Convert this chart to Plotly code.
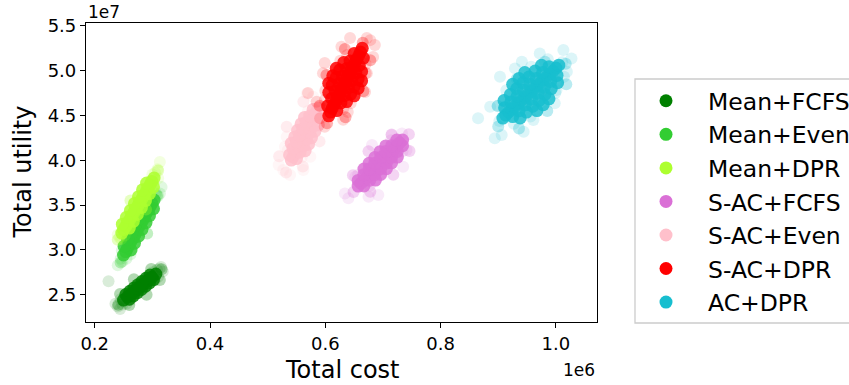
import plotly.graph_objects as go

# Total cost in units of 1e6, total utility in units of 1e7
series_names = ["Mean+FCFS", "Mean+Even", "Mean+DPR", "S-AC+FCFS",
                "S-AC+Even", "S-AC+DPR", "AC+DPR"]
series_colors = ["#008000", "#32CD32", "#ADFF2F", "#DA70D6",
                 "#FFC0CB", "#FF0000", "#17BECF"]

mean_fcfs_core = [
    (0.250, 2.440), (0.257, 2.476), (0.264, 2.513), (0.271, 2.549), (0.278, 2.585),
    (0.285, 2.621), (0.292, 2.658), (0.299, 2.694), (0.306, 2.730),
    (0.260, 2.450), (0.267, 2.487), (0.274, 2.523), (0.281, 2.559), (0.288, 2.595),
    (0.295, 2.632), (0.302, 2.668),
    (0.254, 2.502), (0.261, 2.539), (0.268, 2.575), (0.275, 2.611), (0.282, 2.647),
    (0.289, 2.684), (0.296, 2.720),
]
mean_fcfs_rim = [
    (0.316, 2.783), (0.241, 2.389), (0.290, 2.499), (0.268, 2.673), (0.313, 2.664),
    (0.260, 2.385), (0.244, 2.508), (0.298, 2.787),
]
mean_fcfs_halo = [
    (0.240, 2.37), (0.244, 2.34), (0.236, 2.40), (0.248, 2.39), (0.255, 2.40),
    (0.312, 2.79), (0.318, 2.76), (0.315, 2.81), (0.308, 2.78), (0.300, 2.75),
    (0.224, 2.65), (0.262, 2.44), (0.245, 2.45), (0.310, 2.70), (0.304, 2.66),
]

mean_even_core = [
    (0.250, 2.943), (0.257, 3.020), (0.263, 3.096), (0.270, 3.173), (0.276, 3.250),
    (0.283, 3.326), (0.289, 3.403), (0.296, 3.480), (0.303, 3.556),
    (0.254, 2.981), (0.260, 3.058), (0.267, 3.135), (0.273, 3.211), (0.280, 3.288),
    (0.286, 3.365), (0.293, 3.441), (0.299, 3.518),
    (0.263, 2.999), (0.269, 3.075), (0.276, 3.152), (0.282, 3.229), (0.289, 3.305),
    (0.295, 3.382), (0.302, 3.459),
    (0.251, 3.041), (0.257, 3.117), (0.264, 3.194), (0.270, 3.271), (0.277, 3.347),
    (0.283, 3.424), (0.290, 3.501),
]
mean_even_rim = [(0.308, 3.605), (0.245, 2.860), (0.291, 3.184), (0.263, 3.280)]
mean_even_halo = [
    (0.240, 2.83), (0.245, 2.90), (0.248, 2.87), (0.255, 2.90), (0.310, 3.60),
    (0.316, 3.70), (0.313, 3.63), (0.306, 3.63), (0.262, 2.95), (0.247, 2.99),
]

mean_dpr_core = [
    (0.247, 3.188), (0.250, 3.226), (0.254, 3.265), (0.257, 3.303), (0.261, 3.341),
    (0.264, 3.380), (0.268, 3.418), (0.271, 3.456), (0.275, 3.494), (0.278, 3.533),
    (0.282, 3.571), (0.285, 3.609), (0.289, 3.648), (0.292, 3.686), (0.296, 3.724),
    (0.299, 3.763), (0.303, 3.801),
    (0.260, 3.243), (0.267, 3.319), (0.274, 3.396), (0.281, 3.472), (0.288, 3.549),
    (0.295, 3.626), (0.302, 3.702),
    (0.248, 3.287), (0.255, 3.363), (0.262, 3.440), (0.269, 3.516), (0.276, 3.593),
    (0.283, 3.670), (0.290, 3.746),
]
mean_dpr_rim = [(0.310, 3.886), (0.240, 3.114), (0.289, 3.450), (0.262, 3.550)]
mean_dpr_halo = [
    (0.313, 3.98), (0.309, 3.90), (0.305, 3.86), (0.300, 3.84), (0.243, 3.14),
    (0.240, 3.17), (0.246, 3.12), (0.252, 3.16), (0.310, 3.80),
]

sac_fcfs_core = [
    (0.657, 3.712), (0.667, 3.776), (0.677, 3.840), (0.686, 3.904), (0.696, 3.968),
    (0.705, 4.033), (0.715, 4.097), (0.724, 4.161), (0.734, 4.225),
    (0.687, 3.778), (0.696, 3.842), (0.706, 3.906), (0.715, 3.971), (0.725, 4.035),
    (0.667, 3.902), (0.676, 3.966), (0.686, 4.030), (0.695, 4.095), (0.705, 4.159),
    (0.662, 3.744), (0.672, 3.808), (0.681, 3.872), (0.691, 3.936), (0.701, 4.000),
    (0.710, 4.065), (0.720, 4.129), (0.729, 4.193),
    (0.667, 3.713), (0.677, 3.777), (0.686, 3.841), (0.696, 3.905), (0.706, 3.969),
    (0.715, 4.034), (0.725, 4.098), (0.734, 4.162),
    (0.657, 3.775), (0.667, 3.839), (0.676, 3.903), (0.686, 3.967), (0.696, 4.031),
    (0.705, 4.096), (0.715, 4.160), (0.724, 4.224),
]
sac_fcfs_rim = [
    (0.745, 4.290), (0.649, 3.646), (0.718, 3.838), (0.675, 4.099), (0.746, 4.103),
    (0.678, 3.648), (0.648, 3.833), (0.715, 4.288),
]
sac_fcfs_halo = [
    (0.634, 3.630), (0.640, 3.575), (0.675, 3.593), (0.692, 3.611), (0.733, 4.299),
    (0.741, 4.113), (0.735, 3.927), (0.715, 4.280), (0.652, 3.816), (0.681, 4.169),
    (0.677, 3.714), (0.734, 4.099), (0.657, 3.838), (0.714, 4.223),
]

sac_even_core = [
    (0.541, 4.002), (0.547, 4.074), (0.553, 4.147), (0.559, 4.219), (0.564, 4.292),
    (0.570, 4.364), (0.576, 4.436), (0.582, 4.509), (0.588, 4.581),
    (0.544, 4.038), (0.550, 4.110), (0.556, 4.183), (0.561, 4.255), (0.567, 4.328),
    (0.573, 4.400), (0.579, 4.472), (0.585, 4.545),
    (0.565, 4.106), (0.571, 4.178), (0.576, 4.251), (0.582, 4.323), (0.588, 4.395),
    (0.541, 4.188), (0.547, 4.260), (0.552, 4.333), (0.558, 4.405), (0.564, 4.477),
    (0.550, 4.018), (0.556, 4.090), (0.562, 4.163), (0.567, 4.235), (0.573, 4.308),
    (0.579, 4.380), (0.585, 4.452), (0.591, 4.525),
    (0.538, 4.059), (0.544, 4.131), (0.550, 4.204), (0.555, 4.276), (0.561, 4.349),
    (0.567, 4.421), (0.573, 4.493), (0.579, 4.566),
]
sac_even_rim = [
    (0.532, 3.863), (0.590, 4.210), (0.533, 4.373), (0.561, 3.931), (0.520, 4.045),
    (0.562, 4.652),
]
sac_even_halo = [
    (0.519, 3.947), (0.527, 3.891), (0.539, 3.835), (0.533, 4.261), (0.530, 4.150),
    (0.568, 4.745), (0.579, 4.707), (0.562, 3.890), (0.574, 4.038),
    (0.559, 4.033), (0.594, 4.468), (0.535, 4.115), (0.570, 4.550),
]

sac_dpr_core = [
    (0.609, 4.537), (0.615, 4.621), (0.622, 4.704), (0.628, 4.788), (0.635, 4.872),
    (0.641, 4.955), (0.648, 5.039), (0.654, 5.122), (0.661, 5.206),
    (0.637, 4.654), (0.644, 4.738), (0.650, 4.822), (0.657, 4.905), (0.663, 4.989),
    (0.606, 4.754), (0.612, 4.838), (0.619, 4.922), (0.625, 5.005), (0.632, 5.089),
    (0.612, 4.579), (0.619, 4.663), (0.625, 4.746), (0.632, 4.830), (0.638, 4.913),
    (0.645, 4.997), (0.651, 5.081), (0.658, 5.164),
    (0.620, 4.554), (0.627, 4.638), (0.633, 4.721), (0.640, 4.805), (0.646, 4.888),
    (0.653, 4.972), (0.659, 5.056), (0.666, 5.139),
    (0.604, 4.604), (0.611, 4.688), (0.617, 4.771), (0.624, 4.855), (0.630, 4.938),
    (0.637, 5.022), (0.643, 5.106), (0.650, 5.189),
    (0.650, 4.718), (0.657, 4.802), (0.663, 4.885),
    (0.606, 4.858), (0.613, 4.942), (0.619, 5.025),
    (0.606, 4.495), (0.664, 5.248),
]
sac_dpr_rim = [
    (0.665, 5.309), (0.603, 4.411), (0.666, 4.770), (0.602, 4.950), (0.678, 5.114),
    (0.635, 4.479), (0.590, 4.606), (0.634, 5.241),
]
sac_dpr_halo = [
    (0.678, 5.339), (0.643, 5.362), (0.628, 5.265), (0.599, 5.083), (0.596, 4.971),
    (0.570, 4.749), (0.585, 4.652), (0.591, 4.469), (0.599, 4.373), (0.631, 4.451),
    (0.639, 4.537), (0.669, 4.760), (0.672, 4.971), (0.683, 5.150), (0.686, 5.284),
    (0.672, 5.362), (0.631, 4.571), (0.670, 5.072), (0.599, 4.671), (0.638, 5.172),
    (0.644, 4.634), (0.670, 4.969), (0.600, 4.774), (0.626, 5.109),
]

ac_dpr_core = [
    (0.913, 4.503), (0.924, 4.569), (0.935, 4.634), (0.946, 4.700), (0.957, 4.765),
    (0.967, 4.831), (0.978, 4.896), (0.989, 4.962), (1.000, 5.027),
    (0.938, 4.471), (0.949, 4.537), (0.960, 4.602), (0.971, 4.668), (0.981, 4.733),
    (0.992, 4.799), (1.003, 4.864),
    (0.910, 4.666), (0.921, 4.732), (0.932, 4.797), (0.943, 4.863), (0.953, 4.928),
    (0.964, 4.994), (0.975, 5.059),
    (0.918, 4.536), (0.929, 4.601), (0.940, 4.667), (0.951, 4.732), (0.962, 4.798),
    (0.973, 4.863), (0.984, 4.929), (0.995, 4.994),
    (0.925, 4.487), (0.936, 4.552), (0.947, 4.618), (0.958, 4.683), (0.969, 4.749),
    (0.980, 4.814), (0.991, 4.880), (1.002, 4.945),
    (0.911, 4.585), (0.922, 4.650), (0.933, 4.716), (0.944, 4.781), (0.955, 4.847),
    (0.966, 4.912), (0.977, 4.978), (0.988, 5.043),
    (0.967, 4.554), (0.978, 4.619), (0.988, 4.685),
    (0.925, 4.846), (0.936, 4.911), (0.946, 4.977),
    (0.908, 4.470), (1.005, 5.060),
]
ac_dpr_rim = [
    (1.017, 5.075), (0.900, 4.377), (0.985, 4.548), (0.932, 4.905), (1.018, 4.847),
    (0.936, 4.354), (0.899, 4.606), (0.981, 5.099),
]
ac_dpr_halo = [
    (0.865, 4.467), (0.886, 4.596), (0.903, 4.930), (0.894, 4.244), (0.906, 4.280),
    (0.944, 4.317), (0.961, 4.448), (0.998, 4.634), (1.001, 4.782), (0.972, 5.191),
    (1.013, 5.228), (1.027, 5.135), (1.019, 4.986), (0.941, 5.098), (0.929, 5.024),
    (0.902, 4.437), (1.011, 5.093), (0.927, 4.406), (0.899, 4.601), (1.014, 4.930),
    (0.986, 5.125), (0.956, 4.488), (0.999, 4.750), (0.914, 4.780), (0.957, 5.042),
]

series_core = [mean_fcfs_core, mean_even_core, mean_dpr_core, sac_fcfs_core,
               sac_even_core, sac_dpr_core, ac_dpr_core]
series_rim = [mean_fcfs_rim, mean_even_rim, mean_dpr_rim, sac_fcfs_rim,
              sac_even_rim, sac_dpr_rim, ac_dpr_rim]
series_halo = [mean_fcfs_halo, mean_even_halo, mean_dpr_halo, sac_fcfs_halo,
               sac_even_halo, sac_dpr_halo, ac_dpr_halo]

x_tick_vals = [0.2, 0.4, 0.6, 0.8, 1.0]
x_tick_text = ["0.2", "0.4", "0.6", "0.8", "1.0"]
y_tick_vals = [2.5, 3.0, 3.5, 4.0, 4.5, 5.0, 5.5]
y_tick_text = ["2.5", "3.0", "3.5", "4.0", "4.5", "5.0", "5.5"]
x_range = [0.1849, 1.0713]
y_range = [2.196, 5.530]

FONT = "DejaVu Sans"
W, H = 849, 385
L, R, T, B = 86, 597, 23, 322
PW, PH = R - L, B - T


def px_x(px):
    return (px - L) / PW


def px_y(py):
    return (B - py) / PH


fig = go.Figure()
for name, color, core, rim, halo in zip(series_names, series_colors, series_core,
                                         series_rim, series_halo):
    for pts, op, sz in ((halo, 0.15, 12), (rim, 0.3, 12), (core, 0.85, 13)):
        fig.add_trace(go.Scatter(
            x=[p[0] for p in pts], y=[p[1] for p in pts], mode="markers",
            marker=dict(size=sz, color=color, opacity=op, line=dict(width=0)),
            showlegend=False, legendgroup=name, hoverinfo="skip"))
for name, color in zip(series_names, series_colors):
    fig.add_trace(go.Scatter(
        x=[None], y=[None], mode="markers", name=name, legendgroup=name,
        marker=dict(size=13, color=color, opacity=1)))

axis_common = dict(showline=True, linecolor="black", linewidth=1.2, mirror=True,
                   ticks="outside", ticklen=5, tickwidth=1.2, tickcolor="black",
                   showgrid=False, zeroline=False,
                   tickfont=dict(family=FONT, size=18, color="black"))

fig.update_layout(
    width=W, height=H,
    margin=dict(l=L, r=W - R, t=T, b=H - B, autoexpand=False),
    paper_bgcolor="white", plot_bgcolor="white",
    font=dict(family=FONT, color="black"),
    xaxis=dict(range=x_range, tickvals=x_tick_vals, ticktext=x_tick_text, **axis_common),
    yaxis=dict(range=y_range, tickvals=y_tick_vals, ticktext=y_tick_text, **axis_common),
    legend=dict(x=px_x(624), y=px_y(79), xanchor="left", yanchor="top",
                borderwidth=0, bgcolor="rgba(0,0,0,0)",
                font=dict(family=FONT, size=23.5, color="black"),
                tracegroupgap=0, itemwidth=74),
    shapes=[dict(type="rect", xref="paper", yref="paper",
                 x0=px_x(635), x1=px_x(880), y0=px_y(323), y1=px_y(79),
                 line=dict(color="#cccccc", width=1.3), fillcolor="white", layer="below")],
    annotations=[
        dict(text="Total cost", xref="paper", yref="paper", x=0.5, y=px_y(370),
             xanchor="center", yanchor="middle", showarrow=False,
             font=dict(family=FONT, size=24)),
        dict(text="Total utility", xref="paper", yref="paper", x=px_x(22), y=0.5,
             xanchor="center", yanchor="middle", textangle=-90, showarrow=False,
             font=dict(family=FONT, size=24)),
        dict(text="1e7", xref="paper", yref="paper", x=0, y=px_y(12),
             xanchor="left", yanchor="middle", showarrow=False,
             font=dict(family=FONT, size=17)),
        dict(text="1e6", xref="paper", yref="paper", x=1, y=px_y(370),
             xanchor="right", yanchor="middle", showarrow=False,
             font=dict(family=FONT, size=17)),
    ],
)

fig.write_html("out.html", post_script="document.body.style.margin='0px';",
               config={"displayModeBar": False})
